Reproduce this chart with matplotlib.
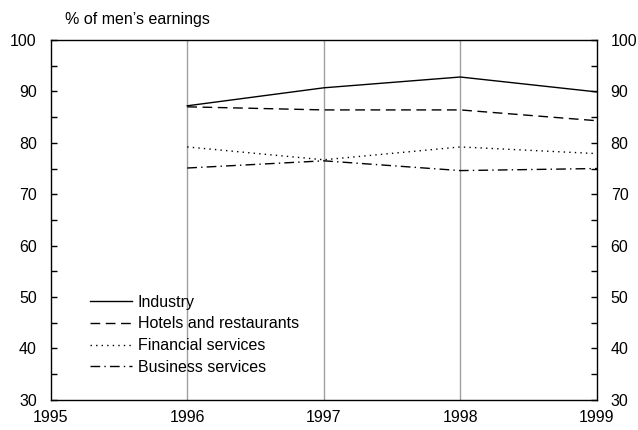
import matplotlib
matplotlib.use('Agg')
from matplotlib import pyplot as plt

# 数据
years = [1996, 1997, 1998, 1999]
industry = [87.2, 90.7, 92.8, 89.9]
hotels = [87.0, 86.4, 86.4, 84.3]
financial = [79.2, 76.7, 79.2, 77.9]
business = [75.1, 76.5, 74.6, 75.0]

plt.rcParams['font.family'] = ['Liberation Sans', 'DejaVu Sans']
plt.rcParams['font.size'] = 11.5

fig = plt.figure(figsize=(6.38, 4.30), dpi=100)
ax = fig.add_axes([0.0795, 0.070, 0.856, 0.837])

# 竖向网格线
for x in [1996, 1997, 1998]:
    ax.axvline(x, color='#a0a0a0', lw=1, zorder=1)

ax.plot(years, industry, color='black', lw=1, label='Industry')
ax.plot(years, hotels, color='black', lw=1, dashes=(7, 4), label='Hotels and restaurants')
ax.plot(years, financial, color='black', lw=1, dashes=(1, 3), label='Financial services')
ax.plot(years, business, color='black', lw=1, dashes=(7, 3, 1, 3), label='Business services')

ax.set_xlim(1995, 1999)
ax.set_ylim(30, 100)
ax.set_xticks([1995, 1996, 1997, 1998, 1999])
ax.set_yticks(range(30, 101, 10))
ax.set_yticks(range(35, 100, 10), minor=True)
ax.tick_params(axis='x', length=0, pad=7)
ax.tick_params(axis='y', which='both', direction='in', left=True, right=True,
               labelleft=True, labelright=True, length=4, width=1)
ax.tick_params(axis='y', which='major', pad=10)
for s in ax.spines.values():
    s.set_linewidth(1)

ax.text(0.026, 1.035, '% of men\u2019s earnings', transform=ax.transAxes,
        ha='left', va='bottom')

ax.legend(loc='upper left', bbox_to_anchor=(0.061, 0.31), frameon=False,
          handlelength=2.6, handletextpad=0.35, labelspacing=0.42, borderaxespad=0)

fig.savefig('out.png', dpi=100)
